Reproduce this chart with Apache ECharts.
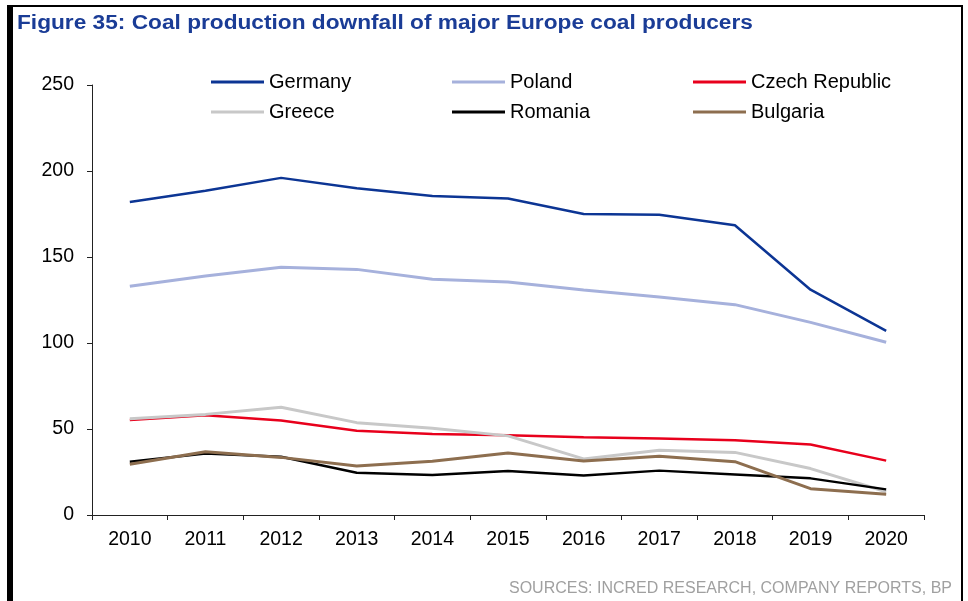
<!DOCTYPE html>
<html>
<head>
<meta charset="utf-8">
<script src="https://cdn.jsdelivr.net/npm/echarts@6/dist/echarts.min.js"></script>
<style>
  html, body { margin: 0; padding: 0; background: #fff; }
  #chart { width: 968px; height: 601px; }
</style>
</head>
<body>
<div id="chart"></div>
<script>
// years on the x axis
const years = ['2010','2011','2012','2013','2014','2015','2016','2017','2018','2019','2020'];
// coal production
const germany  = [182, 188.5, 196, 190, 185.5, 184, 175, 174.6, 168.5, 131, 107];
const poland   = [133, 139, 144, 142.8, 137, 135.5, 130.8, 126.7, 122.3, 112, 100.4];
const czech    = [55.2, 58, 55, 49, 47.1, 46.3, 45.2, 44.5, 43.4, 41, 31.6];
const greece   = [56, 58.5, 62.6, 53.7, 50.4, 46, 32.6, 37.6, 36.4, 27, 13.5];
const romania  = [31, 35.8, 33.9, 24.6, 23.3, 25.6, 22.9, 25.8, 23.6, 21.3, 14.9];
const bulgaria = [29.5, 36.8, 33.5, 28.5, 31.2, 36, 31.4, 34.1, 31, 15.3, 12];

const FONT = '"Liberation Sans", Arial, sans-serif';

function mk(name, data, color, w) {
  return {
    name: name, type: 'line', data: data,
    symbol: 'none', smooth: false,
    lineStyle: { color: color, width: w },
    itemStyle: { color: color }
  };
}

function legendCol(left, names) {
  return {
    orient: 'vertical', left: left, top: 67,
    data: names, icon: 'rect',
    itemWidth: 53, itemHeight: 3, itemGap: 10,
    textStyle: { fontFamily: FONT, fontSize: 20, color: '#000', padding: [0, 0, 0, 0] },
    selectedMode: false
  };
}

const chart = echarts.init(document.getElementById('chart'));
chart.setOption({
  animation: false,
  legend: [
    legendCol(206, ['Germany', 'Greece']),
    legendCol(447, ['Poland', 'Romania']),
    legendCol(688, ['Czech Republic', 'Bulgaria'])
  ],
  grid: { left: 92, right: 44, top: 85, bottom: 86, containLabel: false },
  xAxis: {
    type: 'category', data: years, boundaryGap: true,
    axisLine: { lineStyle: { color: '#222', width: 1 } },
    axisTick: { show: true, length: 5, lineStyle: { color: '#222' } },
    axisLabel: { fontFamily: FONT, fontSize: 19.5, color: '#000', margin: 15 }
  },
  yAxis: {
    type: 'value', min: 0, max: 250, interval: 50,
    axisLine: { show: true, lineStyle: { color: '#222', width: 1 } },
    axisTick: { show: true, length: 5, lineStyle: { color: '#222' } },
    splitLine: { show: false },
    axisLabel: { fontFamily: FONT, fontSize: 19.5, color: '#000', margin: 18 }
  },
  graphic: [
    { type: 'rect', shape: { x: 7, y: 5, width: 6, height: 600 }, style: { fill: '#000' } },
    { type: 'rect', shape: { x: 7, y: 5, width: 956, height: 2 }, style: { fill: '#000' } },
    { type: 'rect', shape: { x: 961, y: 5, width: 2, height: 600 }, style: { fill: '#000' } },
    {
      type: 'text', x: 17, y: 13, scaleX: 1.134,
      style: {
        text: 'Figure 35: Coal production downfall of major Europe coal producers',
        fontFamily: FONT, fontSize: 20, fontWeight: 'bold', fill: '#1a3c96'
      }
    },
    {
      type: 'text', right: 16, top: 581,
      style: { text: 'SOURCES: INCRED RESEARCH, COMPANY REPORTS, BP', fontFamily: FONT, fontSize: 16, fill: '#a0a0a0' }
    }
  ],
  series: [
    mk('Germany', germany, '#0c3594', 2.5),
    mk('Poland', poland, '#a6b1dc', 3),
    mk('Czech Republic', czech, '#e8001c', 2.5),
    mk('Greece', greece, '#c8c8c8', 3),
    mk('Romania', romania, '#000000', 2.5),
    mk('Bulgaria', bulgaria, '#8d6e4f', 3)
  ]
});
</script>
</body>
</html>
